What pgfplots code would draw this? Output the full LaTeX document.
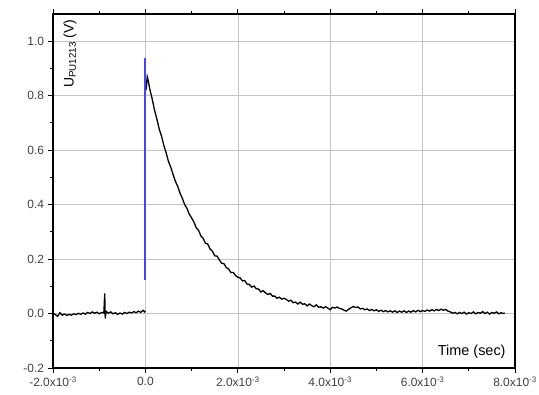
\documentclass[border=0pt]{standalone}
\usepackage{pgfplots}
\pgfplotsset{compat=1.18}
\usepackage{fontspec}
\setmainfont{Liberation Sans}
\definecolor{gridgray}{HTML}{C4C4C4}
\definecolor{labgray}{HTML}{404040}
\definecolor{traceblue}{RGB}{70,70,240}
\begin{document}
\begin{tikzpicture}
\begin{axis}[
  scale only axis,
  width=462bp, height=354bp,
  xmin=-2, xmax=8, ymin=-0.2, ymax=1.1,
  xtick={-2,0,2,4,6,8},
  xticklabels={-2.0x10\textsuperscript{-3},0.0,2.0x10\textsuperscript{-3},4.0x10\textsuperscript{-3},6.0x10\textsuperscript{-3},8.0x10\textsuperscript{-3}},
  minor xtick={-1,1,3,5,7},
  ytick={-0.2,0,0.2,0.4,0.6,0.8,1.0},
  yticklabels={-0.2,0.0,0.2,0.4,0.6,0.8,1.0},
  minor ytick={-0.1,0.1,0.3,0.5,0.7,0.9},
  xtick pos=both, ytick pos=left,
  xticklabel pos=lower,
  tick align=outside,
  major tick length=4.5bp, minor tick length=2.5bp,
  every tick/.style={black, line width=1pt},
  axis line style={line width=1.2pt, black},
  grid=major,
  major grid style={gridgray, line width=0.6pt},
  ticklabel style={font=\fontsize{12}{13}\selectfont, text=labgray},
  xticklabel style={yshift=-1bp},
  yticklabel style={xshift=-1bp},
  clip=true,
]
\addplot[black, line width=1.3pt] table {
x y
-2.00 0.002
-1.95 -0.004
-1.90 -0.010
-1.85 0.003
-1.80 -0.006
-1.75 -0.002
-1.70 -0.007
-1.65 -0.003
-1.60 -0.006
-1.55 -0.001
-1.50 -0.004
-1.45 0.001
-1.40 -0.003
-1.35 0.002
-1.30 -0.002
-1.25 0.004
-1.20 0.000
-1.15 0.006
-1.10 0.001
-1.05 0.005
-1.00 -0.001
-0.95 0.004
-0.90 0.002
-0.88 0.074
-0.87 -0.018
-0.85 0.008
-0.80 0.001
-0.75 0.006
-0.70 -0.001
-0.65 0.003
-0.60 -0.003
-0.55 0.002
-0.50 -0.002
-0.45 0.004
-0.40 0.000
-0.35 0.005
-0.30 0.002
-0.25 0.007
-0.20 0.003
-0.15 0.009
-0.10 0.004
-0.05 0.012
-0.02 0.006
0.00 0.010
};
\addplot[black, line width=1.3pt] table {
x y
0.00 0.840
0.02 0.830
0.04 0.870
0.05 0.864
0.10 0.821
0.15 0.786
0.20 0.745
0.25 0.713
0.30 0.677
0.35 0.651
0.40 0.617
0.45 0.590
0.50 0.558
0.55 0.537
0.60 0.510
0.65 0.485
0.70 0.467
0.75 0.442
0.80 0.423
0.85 0.400
0.90 0.386
0.95 0.365
1.00 0.351
1.05 0.336
1.10 0.315
1.15 0.306
1.20 0.285
1.25 0.276
1.30 0.258
1.35 0.255
1.40 0.237
1.45 0.229
1.50 0.212
1.55 0.211
1.60 0.197
1.65 0.185
1.70 0.183
1.75 0.169
1.80 0.164
1.85 0.151
1.90 0.151
1.95 0.140
2.00 0.133
2.05 0.131
2.10 0.120
2.15 0.121
2.20 0.108
2.25 0.107
2.30 0.097
2.35 0.101
2.40 0.091
2.45 0.090
2.50 0.079
2.55 0.084
2.60 0.076
2.65 0.070
2.70 0.074
2.75 0.064
2.80 0.064
2.85 0.056
2.90 0.060
2.95 0.053
3.00 0.056
3.05 0.052
3.10 0.045
3.15 0.049
3.20 0.040
3.25 0.042
3.30 0.035
3.35 0.042
3.40 0.034
3.45 0.036
3.50 0.028
3.55 0.035
3.60 0.029
3.65 0.025
3.70 0.032
3.75 0.023
3.80 0.025
3.85 0.020
3.90 0.025
3.95 0.020
4.00 0.014
4.05 0.023
4.10 0.020
4.15 0.024
4.20 0.019
4.25 0.017
4.30 0.012
4.35 0.009
4.40 0.016
4.45 0.021
4.50 0.026
4.55 0.022
4.60 0.024
4.65 0.017
4.70 0.019
4.75 0.014
4.80 0.017
4.85 0.011
4.90 0.015
4.95 0.010
5.00 0.014
5.05 0.008
5.10 0.012
5.15 0.007
5.20 0.011
5.25 0.006
5.30 0.010
5.35 0.005
5.40 0.010
5.45 0.004
5.50 0.009
5.55 0.005
5.60 0.010
5.65 0.004
5.70 0.009
5.75 0.005
5.80 0.011
5.85 0.006
5.90 0.012
5.95 0.007
6.00 0.011
6.05 0.008
6.10 0.013
6.15 0.009
6.20 0.014
6.25 0.010
6.30 0.015
6.35 0.011
6.40 0.016
6.45 0.012
6.50 0.015
6.55 0.009
6.60 0.006
6.65 0.001
6.70 0.004
6.75 -0.001
6.80 0.004
6.85 0.000
6.90 0.005
6.95 -0.002
7.00 0.003
7.05 0.000
7.10 0.006
7.15 -0.001
7.20 0.004
7.25 0.001
7.30 0.007
7.35 0.000
7.40 0.005
7.45 -0.002
7.50 0.004
7.55 0.001
7.60 0.006
7.65 -0.001
7.70 0.003
7.75 0.000
7.78 0.002
};
\addplot[fill=traceblue, draw=none, mark=none] coordinates {
(-0.022,0.124) (0.022,0.124) (0.022,0.94) (-0.022,0.94)
} -- cycle;
\node[rotate=90, anchor=east, inner sep=0pt, font=\fontsize{14}{16}\selectfont]
  at (rel axis cs:0.037,0.985) {U\textsubscript{PU1213} (V)};
\node[anchor=east, inner sep=0pt, font=\fontsize{14.5}{16}\selectfont]
  at (rel axis cs:0.98,0.045) {Time (sec)};
\end{axis}
\pgfresetboundingbox
\path ([shift={(-53bp,-27bp)}]current axis.south west) rectangle ([shift={(24bp,14bp)}]current axis.north east);
\end{tikzpicture}
\end{document}
